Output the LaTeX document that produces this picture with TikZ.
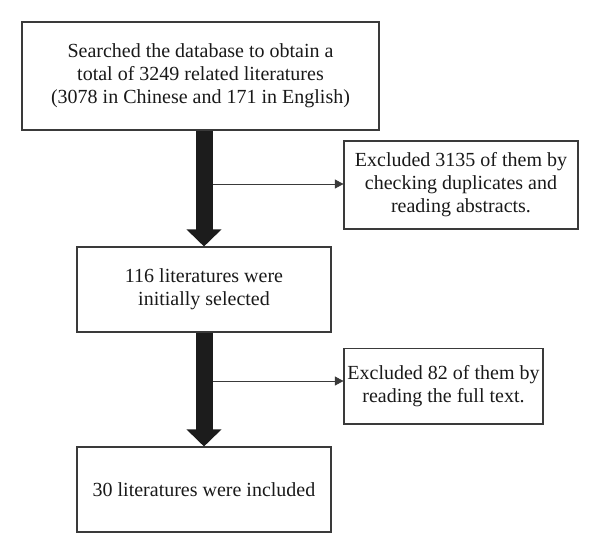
\documentclass[tikz,border=0pt]{standalone}
\usepackage{fontspec}
\setmainfont{Liberation Serif}
\usetikzlibrary{arrows.meta,calc}
\definecolor{boxline}{HTML}{3A3A3A}
\definecolor{barcol}{HTML}{1C1C1C}
\tikzset{
  box/.style={draw=boxline, line width=0.8pt, align=center, inner sep=0pt,
    font=\fontsize{15pt}{17.3pt}\selectfont, text=black!90},
  bigarrow/.style={draw=barcol, line width=12.75pt,
    -{Triangle[width=25.5pt,length=12.8pt]}, shorten >=0pt},
  thinarrow/.style={draw=boxline, line width=0.6pt,
    -{Triangle[width=6.8pt,length=6.5pt]}},
}
\begin{document}
\begin{tikzpicture}[x=0.75pt,y=-0.75pt]
\useasboundingbox (0,0) rectangle (600,554);
\node[box, minimum width=267.75pt, minimum height=81pt] (b1) at (200.5,76)
  {Searched the database to obtain a\\ total of 3249 related literatures\\ (3078 in Chinese and 171 in English)};
\node[box, minimum width=175.5pt, minimum height=66pt] (b2) at (461,185)
  {Excluded 3135 of them by\\ checking duplicates and\\ reading abstracts.};
\node[box, minimum width=190.5pt, minimum height=63.75pt] (b3) at (204,289.5)
  {116 literatures were\\ initially selected};
\node[box, minimum width=149.25pt, minimum height=56.6pt] (b4) at (443.5,386.25)
  {Excluded 82 of them by\\ reading the full text.};
\node[box, minimum width=190.5pt, minimum height=63.75pt] (b5) at (204,489.5)
  {30 literatures were included};
\coordinate (j1) at (204,184);
\coordinate (j2) at (204,381);
\draw[thinarrow] (j1) -- (j1 -| b2.west);
\draw[thinarrow] (j2) -- (j2 -| b4.west);
\draw[bigarrow] (b1.south -| b3.north) -- (b3.north);
\draw[bigarrow] (b3.south) -- (b5.north);
\end{tikzpicture}
\end{document}
